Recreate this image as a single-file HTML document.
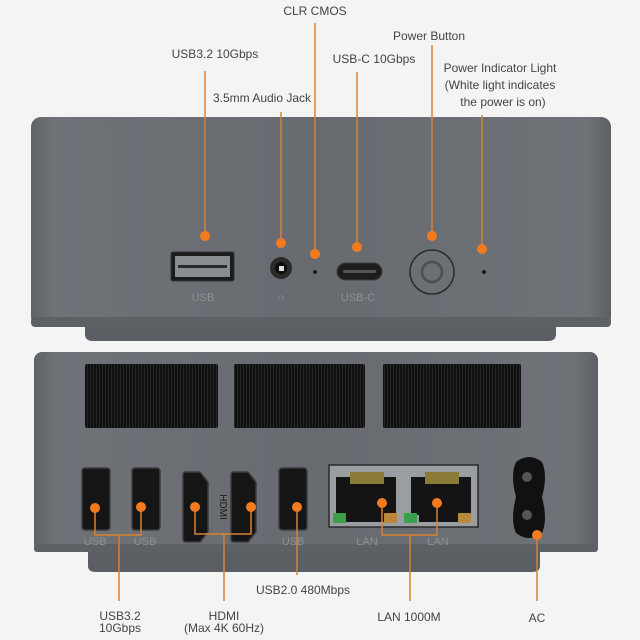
<!DOCTYPE html>
<html><head><meta charset="utf-8"><style>
html,body{margin:0;padding:0;background:#f4f4f4;}
svg{display:block;}
text{font-family:"Liberation Sans",sans-serif;}
</style></head><body>
<svg width="640" height="640" viewBox="0 0 640 640" xmlns="http://www.w3.org/2000/svg">
<defs>
<linearGradient id="body" x1="0" x2="1" y1="0" y2="0">
<stop offset="0" stop-color="#5f6368"/><stop offset="0.04" stop-color="#6f7378"/><stop offset="0.5" stop-color="#676b70"/><stop offset="0.96" stop-color="#6f7378"/><stop offset="1" stop-color="#5c6065"/>
</linearGradient>
<pattern id="fin" width="3" height="4" patternUnits="userSpaceOnUse"><rect width="3" height="4" fill="#111"/><rect width="1" height="4" fill="#242424"/></pattern>
</defs>
<rect width="640" height="640" fill="#f4f4f4"/>

<!-- top device -->
<path d="M85 322 H556 V334 Q556 341 548 341 H93 Q85 341 85 334 Z" fill="#5b5f64"/>
<rect x="31" y="117" width="580" height="210" rx="10" fill="url(#body)"/>
<rect x="31" y="317" width="580" height="10" rx="4" fill="#5d6166"/>

<!-- USB-A -->
<rect x="171" y="252" width="63" height="29" rx="2" fill="#1b1b1b" stroke="#333" stroke-width="1"/>
<rect x="175" y="256" width="55" height="21" fill="#8a8d90"/>
<rect x="178" y="265" width="49" height="3" fill="#2a2a2a"/>
<text x="203" y="301" font-size="11" fill="#8d9195" text-anchor="middle">USB</text>
<!-- audio -->
<circle cx="281" cy="268" r="11" fill="#2a2a2a"/><circle cx="281" cy="268" r="6" fill="#0c0c0c"/><rect x="279" y="266" width="5" height="5" fill="#ddd"/>
<text x="281" y="301" font-size="11" fill="#8d9195" text-anchor="middle">∩</text>
<!-- CLR pinhole -->
<circle cx="315" cy="272" r="2" fill="#1a1a1a"/>
<!-- USB-C -->
<rect x="337" y="263" width="45" height="17" rx="8.5" fill="#1d1d1d" stroke="#3a3a3a"/>
<rect x="343" y="270" width="33" height="3" rx="1.5" fill="#555"/>
<text x="358" y="301" font-size="11" fill="#8d9195" text-anchor="middle">USB-C</text>
<!-- power button -->
<circle cx="432" cy="272" r="22" fill="#6c7075" stroke="#2b2b2b" stroke-width="1.5"/>
<circle cx="432" cy="272" r="10" fill="none" stroke="#4b4f53" stroke-width="2.5"/>
<circle cx="484" cy="272" r="2" fill="#1a1a1a"/>

<!-- top leaders -->
<g stroke="#d9812f" stroke-width="1.5">
<line x1="205" y1="71" x2="205" y2="236"/>
<line x1="281" y1="112" x2="281" y2="243"/>
<line x1="315" y1="23" x2="315" y2="254"/>
<line x1="357" y1="72" x2="357" y2="247"/>
<line x1="432" y1="45" x2="432" y2="236"/>
<line x1="482" y1="115" x2="482" y2="249"/>
</g>
<g fill="#f47a1e">
<circle cx="205" cy="236" r="5"/><circle cx="281" cy="243" r="5"/><circle cx="315" cy="254" r="5"/>
<circle cx="357" cy="247" r="5"/><circle cx="432" cy="236" r="5"/><circle cx="482" cy="249" r="5"/>
</g>
<g font-size="12" fill="#444" text-anchor="middle">
<text x="315" y="15">CLR CMOS</text>
<text x="429" y="40">Power Button</text>
<text x="215" y="58">USB3.2 10Gbps</text>
<text x="374" y="63">USB-C 10Gbps</text>
<text x="262" y="102">3.5mm Audio Jack</text>
<text x="500" y="72">Power Indicator Light</text>
<text x="500" y="89">(White light indicates</text>
<text x="503" y="106">the power is on)</text>
</g>

<!-- bottom device -->
<path d="M88 548 H540 V566 Q540 572 532 572 H96 Q88 572 88 566 Z" fill="#5b5f64"/>
<rect x="34" y="352" width="564" height="200" rx="8" fill="url(#body)"/>
<rect x="34" y="544" width="564" height="8" rx="3" fill="#5d6166"/>
<rect x="85" y="364" width="133" height="64" rx="2" fill="url(#fin)"/>
<rect x="234" y="364" width="131" height="64" rx="2" fill="url(#fin)"/>
<rect x="383" y="364" width="138" height="64" rx="2" fill="url(#fin)"/>

<!-- USB ports -->
<g fill="#151515" stroke="#3c3c3c" stroke-width="1.5">
<rect x="82" y="468" width="28" height="62" rx="3"/>
<rect x="132" y="468" width="28" height="62" rx="3"/>
<rect x="279" y="468" width="28" height="62" rx="3"/>
<path d="M183 475 Q183 472 186 472 H200 L208 482 V532 L200 542 H186 Q183 542 183 539 Z"/>
<path d="M231 475 Q231 472 234 472 H248 L256 482 V532 L248 542 H234 Q231 542 231 539 Z"/>
</g>
<text x="220" y="507" font-size="10" fill="#1a1a1a" text-anchor="middle" transform="rotate(90 220 507)">HDMI</text>
<g font-size="11" fill="#8d9195" text-anchor="middle">
<text x="95" y="545">USB</text><text x="145" y="545">USB</text><text x="293" y="545">USB</text>
<text x="367" y="545">LAN</text><text x="438" y="545">LAN</text>
</g>
<!-- LAN -->
<rect x="329" y="465" width="149" height="62" fill="#9a9ea2" stroke="#2a2a2a" stroke-width="1.5"/>
<path d="M336 477 H396 V515 H388 V522 H344 V515 H336 Z" fill="#141414"/>
<path d="M411 477 H471 V515 H463 V522 H419 V515 H411 Z" fill="#141414"/>
<rect x="350" y="472" width="34" height="12" fill="#8a7a35"/>
<rect x="425" y="472" width="34" height="12" fill="#8a7a35"/>
<rect x="333" y="513" width="13" height="10" rx="1" fill="#3aa04a"/>
<rect x="384" y="513" width="13" height="10" rx="1" fill="#b8893a"/>
<rect x="404" y="513" width="13" height="10" rx="1" fill="#3aa04a"/>
<rect x="458" y="513" width="13" height="10" rx="1" fill="#b8893a"/>
<!-- AC -->
<path d="M516 462 Q529 452 542 462 Q548 475 542 497 Q548 520 542 533 Q529 543 516 533 Q510 520 516 497 Q510 475 516 462 Z" fill="#111"/>
<circle cx="527" cy="477" r="5" fill="#555"/><circle cx="527" cy="515" r="5" fill="#555"/>

<!-- bottom leaders -->
<g stroke="#d9812f" stroke-width="1.5" fill="none">
<path d="M95 508 V535 H141 V507"/><line x1="119" y1="535" x2="119" y2="601"/>
<path d="M195 507 V534 H251 V507"/><line x1="224" y1="534" x2="224" y2="601"/>
<line x1="297" y1="507" x2="297" y2="575"/>
<path d="M382 503 V535 H437 V503"/><line x1="410" y1="535" x2="410" y2="601"/>
<line x1="537" y1="535" x2="537" y2="601"/>
</g>
<g fill="#f47a1e">
<circle cx="95" cy="508" r="5"/><circle cx="141" cy="507" r="5"/><circle cx="195" cy="507" r="5"/>
<circle cx="251" cy="507" r="5"/><circle cx="297" cy="507" r="5"/><circle cx="382" cy="503" r="5"/>
<circle cx="437" cy="503" r="5"/><circle cx="537" cy="535" r="5"/>
</g>
<g font-size="12" fill="#444" text-anchor="middle">
<text x="303" y="594">USB2.0 480Mbps</text>
<text x="120" y="620">USB3.2</text><text x="120" y="632">10Gbps</text>
<text x="224" y="620">HDMI</text><text x="224" y="632">(Max 4K 60Hz)</text>
<text x="409" y="621">LAN 1000M</text>
<text x="537" y="622">AC</text>
</g>
</svg>
</body></html>
